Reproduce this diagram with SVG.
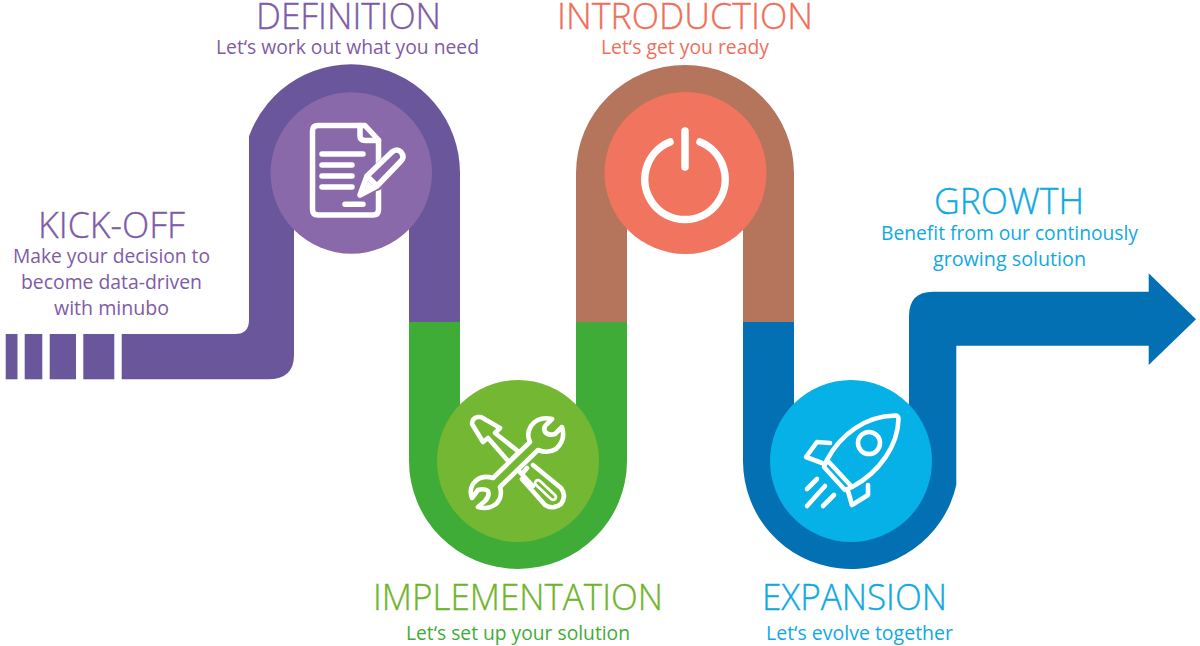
<svg xmlns="http://www.w3.org/2000/svg" width="1200" height="646" viewBox="0 0 1200 646">
<style>
text{font-family:"Open Sans","Noto Sans","Liberation Sans",sans-serif;font-weight:300;}
.t{font-size:36px;stroke-width:.35px}.s{font-size:20px;font-weight:400}
.ic{fill:none;stroke:#fff;stroke-width:5.5;stroke-linecap:round;stroke-linejoin:round}
.th{stroke-width:4.6}
.pu{fill:#7e5ba6;stroke:#7e5ba6;}.gr{fill:#6fb52c;stroke:#6fb52c}.gs{fill:#3fac37}.or{fill:#ef6f5a;stroke:#ef6f5a}.bl{fill:#0fa9e2;stroke:#0fa9e2}
.s{stroke:none}
</style>
<rect width="1200" height="646" fill="#fff"/>
<g id="connectors">
<g id="ribbon-purple" fill="#6a569b">
<rect x="5.7" y="334" width="11.8" height="45.3"/>
<rect x="24.7" y="334" width="17.6" height="45.3"/>
<rect x="49.7" y="334" width="26.3" height="45.3"/>
<rect x="83.3" y="334" width="31" height="45.3"/>
<path d="M121.7,334 H235 Q249,334 249,320 V136.3 A108.7,108.7 0 0 1 460,173 V322 H409 V173 A57.5,57.5 0 0 0 294,173 V355 Q294,379.3 268,379.3 H121.7 Z"/>
</g>
<path id="ribbon-green" fill="#3fac37" d="M409,322 H460 V461 A58,58 0 0 0 576,461 V322 H627 V461 A109,108 0 0 1 409,461 Z"/>
<path id="ribbon-brown" fill="#b5755c" d="M576,322 V173 A109,108 0 0 1 794,173 V322 H743 V173 A58,58 0 0 0 627,173 V322 Z"/>
<path id="ribbon-blue" fill="#0270b3" d="M743,322 H794 V461 A57.5,57.5 0 0 0 909,461 V316 Q909,291.7 933,291.7 H1148.7 V273.3 L1196,319.3 L1148.7,365 V345.7 H956.3 V485 A108,108 0 0 1 743,461 Z"/>
</g>
<g id="kick-off">
<text class="t pu" x="111.5" y="238" text-anchor="middle" textLength="147" lengthAdjust="spacingAndGlyphs">KICK-OFF</text>
<text class="s pu" x="111.5" y="263" text-anchor="middle" textLength="197" lengthAdjust="spacingAndGlyphs">Make your decision to</text>
<text class="s pu" x="111.5" y="289" text-anchor="middle" textLength="181" lengthAdjust="spacingAndGlyphs">become data-driven</text>
<text class="s pu" x="111.5" y="315" text-anchor="middle" textLength="115" lengthAdjust="spacingAndGlyphs">with minubo</text>
</g>
<g id="definition">
<circle cx="351.3" cy="173" r="80.7" fill="#8a69ab"/>
<path class="ic" d="M365,125.5 H318 Q312.5,125.5 312.5,131 V209.5 Q312.5,215 318,215 H373 Q378.5,215 378.5,209.5 V140 L365,125.5 Z"/>
<path class="ic" d="M360,125.5 V136 Q360,140.5 365,140.5 H378.5"/>
<path class="ic" d="M322,154 H363 M322,165 H352 M322,176 H352 M322,187 H352 M345,204.3 H363"/>
<path d="M358,197 L365,174 L394,146 L408,160 L380,190 Z" fill="#8a69ab"/>
<path class="ic" d="M360,195 L367,176 L392,152 Q397,148 401,152 Q405,157 401,161 L377,186 Z M367,176 L377,186"/>
<path d="M364,191 L368,181 L373,186 Z" fill="#fff"/>
<text class="t pu" x="348.5" y="29" text-anchor="middle" textLength="185" lengthAdjust="spacingAndGlyphs">DEFINITION</text>
<text class="s pu" x="347.5" y="54" text-anchor="middle" textLength="263" lengthAdjust="spacingAndGlyphs">Let‘s work out what you need</text>
</g>
<g id="implementation">
<circle cx="518" cy="461" r="81" fill="#74b732"/>
<path class="ic th" d="M478,417 Q472,418 472,424 L483,442 L488,438 L509,462 L519,452 L495,433 L500,428 L481,417 Z"/>
<path class="ic th" fill="#74b732" d="M522,474 L527,468 M515,467 L533,486 M533,465 L561,488 Q567,496 561,504 Q553,510 545,505 L522,479"/>
<path d="M538,483 L553,497" fill="none" stroke="#fff" stroke-width="8.5" stroke-linecap="round"/>
<path d="M538,483 L553,497" fill="none" stroke="#74b732" stroke-width="3" stroke-linecap="round"/>
<path class="ic th" style="fill:#74b732" d="M552,419 Q538,416 531,426 Q526,434 530,442 L493,478 Q480,474 473,484 Q469,490 472,498 L478,490 Q484,488 488,491 Q490,496 485,501 L478,507 Q488,510 496,504 Q503,497 500,487 L538,450 Q548,454 556,449 Q566,440 562,427 L555,434 Q549,436 545,432 Q543,427 547,424 Z"/>
<text class="t gr" x="518" y="610" text-anchor="middle" textLength="290" lengthAdjust="spacingAndGlyphs">IMPLEMENTATION</text>
<text class="s gs" x="518" y="640" text-anchor="middle" textLength="224" lengthAdjust="spacingAndGlyphs">Let‘s set up your solution</text>
</g>
<g id="introduction">
<circle cx="685.5" cy="173" r="81" fill="#f0745e"/>
<path class="ic" style="stroke-width:7.5" d="M670,142 A40.2,40.2 0 1 0 700,142 M685,131 V167"/>
<text class="t or" x="685" y="29" text-anchor="middle" textLength="256" lengthAdjust="spacingAndGlyphs">INTRODUCTION</text>
<text class="s or" x="685" y="54" text-anchor="middle" textLength="168" lengthAdjust="spacingAndGlyphs">Let‘s get you ready</text>
</g>
<g id="expansion">
<circle cx="851" cy="461" r="81" fill="#05b1e6"/>
<path class="ic th" d="M895,415.5 Q898.5,415.5 898.5,419 C898,445 880,472 852,487 L827,460 C840,435 865,416 895,415.5 Z"/>
<circle cx="869" cy="443" r="11" class="ic th"/>
<path class="ic th" d="M827,460 L824,467 L845,490 L852,487 M830,443 L817,442 L806,457 L822,463 M868,485 L868,495 L852,505 L848,491"/>
<path class="ic th" d="M817,479 L807,489 M825,486 L807,506 M834,495 L823,506"/>
<text class="t bl" x="854.5" y="610" text-anchor="middle" textLength="185" lengthAdjust="spacingAndGlyphs">EXPANSION</text>
<text class="s bl" x="859.5" y="640" text-anchor="middle" textLength="187" lengthAdjust="spacingAndGlyphs">Let‘s evolve together</text>
</g>
<g id="growth">
<text class="t bl" x="1009" y="214" text-anchor="middle" textLength="150" lengthAdjust="spacingAndGlyphs">GROWTH</text>
<text class="s bl" x="1009.5" y="240" text-anchor="middle" textLength="257" lengthAdjust="spacingAndGlyphs">Benefit from our continously</text>
<text class="s bl" x="1009.5" y="266" text-anchor="middle" textLength="153" lengthAdjust="spacingAndGlyphs">growing solution</text>
</g>
</svg>
